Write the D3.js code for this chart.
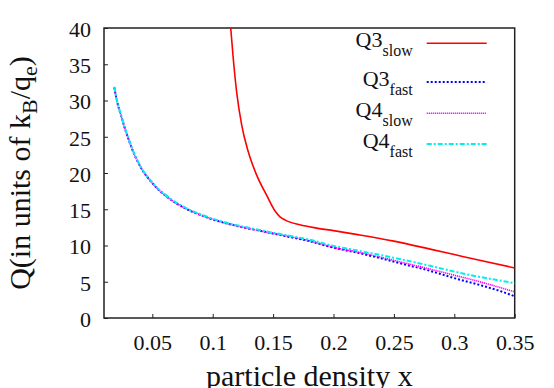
<!DOCTYPE html>
<html><head><meta charset="utf-8">
<script src="https://cdn.jsdelivr.net/npm/d3@7"></script>
<style>
body{margin:0;background:#fff;}
svg{display:block;}
</style></head>
<body>
<svg id="chart" width="554" height="388" font-family="'Liberation Serif', 'Times New Roman', serif"></svg>
<script>
// ---- data ----
const xTicks = [0.05, 0.1, 0.15, 0.2, 0.25, 0.3, 0.35];
const yTicks = [0, 5, 10, 15, 20, 25, 30, 35, 40];

const xSlow3 = [0.1149, 0.117, 0.1198, 0.124, 0.1295, 0.1364, 0.1447, 0.1516, 0.1557, 0.160, 0.1722, 0.186, 0.2, 0.22, 0.25, 0.28, 0.3, 0.32, 0.35];
const q3Slow = [40, 35.8, 31.2, 26.6, 22.9, 19.7, 16.9, 14.75, 13.95, 13.5, 12.85, 12.4, 12.05, 11.5, 10.6, 9.5, 8.75, 8.0, 6.9];

const xFast = [0.0185, 0.02, 0.025, 0.03, 0.035, 0.04, 0.05, 0.06, 0.07, 0.08, 0.09, 0.10, 0.12, 0.14, 0.16, 0.18, 0.20, 0.22, 0.24, 0.26, 0.28, 0.30, 0.32, 0.34, 0.35];
const q3Fast = [31.8, 30.5, 27.4, 24.8, 22.6, 20.9, 18.6, 17.0, 15.8, 14.9, 14.2, 13.6, 12.7, 12.0, 11.3, 10.6, 9.7, 9.0, 8.2, 7.35, 6.5, 5.5, 4.6, 3.6, 3.0];
const q4Slow = [31.8, 30.5, 27.4, 24.8, 22.6, 20.9, 18.6, 17.0, 15.8, 14.9, 14.2, 13.6, 12.7, 12.0, 11.35, 10.65, 9.75, 9.1, 8.35, 7.55, 6.75, 5.9, 5.05, 4.1, 3.6];
const q4Fast = [31.9, 30.6, 27.5, 24.9, 22.7, 21.0, 18.7, 17.1, 15.9, 15.0, 14.3, 13.7, 12.8, 12.1, 11.45, 10.8, 9.95, 9.3, 8.65, 7.95, 7.2, 6.4, 5.7, 5.1, 4.8];

const seriesNames = ["Q3|slow", "Q3|fast", "Q4|slow", "Q4|fast"];

// ---- layout ----
const FONT = "'Liberation Serif', 'Times New Roman', serif";
const svg = d3.select("#chart");
const plot = {left:104, top:28, right:514.7, bottom:318};
const x = d3.scaleLinear().domain([0.01, 0.35]).range([plot.left, plot.right]);
const y = d3.scaleLinear().domain([0, 40]).range([plot.bottom, plot.top]);

const styles = [
  {color:"#ff0000", width:1.6, dash:null},
  {color:"#0000ff", width:2, dash:"2,2"},
  {color:"#ff00ff", width:1.6, dash:"1.2,0.8"},
  {color:"#00eeee", width:2, dash:"5,2,2,2"}
];
const series = [
  xSlow3.map((v,i)=>[v,q3Slow[i]]),
  xFast.map((v,i)=>[v,q3Fast[i]]),
  xFast.map((v,i)=>[v,q4Slow[i]]),
  xFast.map((v,i)=>[v,q4Fast[i]])
];

svg.append("clipPath").attr("id","clip").append("rect")
  .attr("x",plot.left).attr("y",plot.top).attr("width",plot.right-plot.left).attr("height",plot.bottom-plot.top);

// axes
const xAxis = d3.axisBottom(x).tickValues(xTicks).tickSizeInner(-4).tickSizeOuter(0).tickPadding(0).tickFormat(d3.format("~g"));
const gx = svg.append("g").attr("transform",`translate(0,${plot.bottom})`).call(xAxis)
  .attr("font-family",FONT).attr("font-size",22);
gx.select(".domain").remove();
gx.selectAll("line").attr("stroke","#222").attr("stroke-width",1);
gx.selectAll("text").attr("y",32).attr("dy",null).attr("fill","#111");

const yAxis = d3.axisLeft(y).tickValues(yTicks).tickSizeInner(-4).tickSizeOuter(0).tickPadding(0);
const gy = svg.append("g").attr("transform",`translate(${plot.left},0)`).call(yAxis)
  .attr("font-family",FONT).attr("font-size",22);
gy.select(".domain").remove();
gy.selectAll("line").attr("stroke","#222").attr("stroke-width",1);
gy.selectAll("text").attr("x",-13).attr("dy","0.38em").attr("fill","#111");

// frame
svg.append("rect").attr("x",plot.left).attr("y",plot.top)
  .attr("width",plot.right-plot.left).attr("height",plot.bottom-plot.top)
  .attr("fill","none").attr("stroke","#222").attr("stroke-width",1.5);

// lines
const line = d3.line().x(d=>x(d[0])).y(d=>y(d[1])).curve(d3.curveMonotoneX);
const gl = svg.append("g").attr("clip-path","url(#clip)");
series.forEach((s,i)=>{
  gl.append("path").datum(s).attr("d",line).attr("fill","none")
    .attr("stroke",styles[i].color).attr("stroke-width",styles[i].width)
    .attr("stroke-dasharray",styles[i].dash);
});

// legend
const legBase = [47, 85.5, 117, 148];
const legLineY = [43.3, 82, 113.3, 144];
seriesNames.forEach((nm,i)=>{
  const [main, sub] = nm.split("|");
  const t = svg.append("text").attr("x",412.7).attr("y",legBase[i]).attr("text-anchor","end")
    .attr("font-family",FONT).attr("font-size",22).attr("fill","#111");
  t.append("tspan").text(main);
  t.append("tspan").attr("dy",9).attr("font-size",16).text(sub);
  svg.append("line").attr("x1",426.7).attr("x2",486.7).attr("y1",legLineY[i]).attr("y2",legLineY[i])
    .attr("stroke",styles[i].color).attr("stroke-width",styles[i].width).attr("stroke-dasharray",styles[i].dash);
});

// axis titles
svg.append("text").attr("x",(plot.left+plot.right)/2).attr("y",386).attr("text-anchor","middle")
  .attr("font-family",FONT).attr("font-size",30).attr("fill","#111").text("particle density x");

const yl = svg.append("text").attr("transform",`translate(29.5,173) rotate(-90)`).attr("text-anchor","middle")
  .attr("font-family",FONT).attr("font-size",30).attr("fill","#111");
yl.append("tspan").text("Q(in units of k");
yl.append("tspan").attr("dy",7).attr("font-size",22).text("B");
yl.append("tspan").attr("dy",-7).text("/q");
yl.append("tspan").attr("dy",7).attr("font-size",22).text("e");
yl.append("tspan").attr("dy",-7).text(")");
</script>
</body></html>
